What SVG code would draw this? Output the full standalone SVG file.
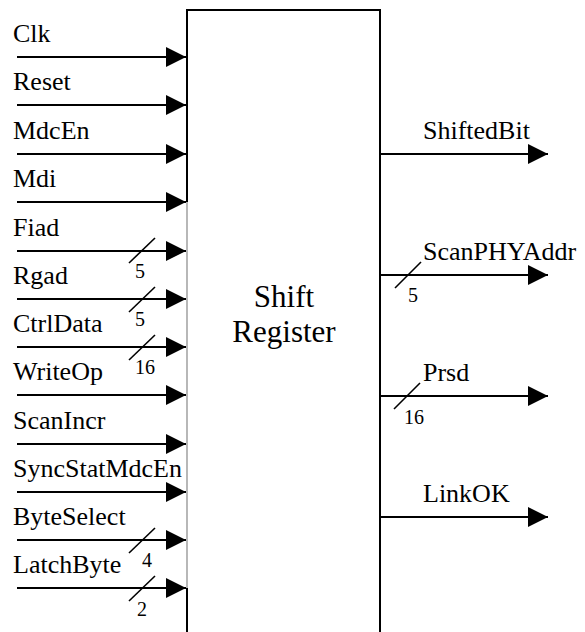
<svg xmlns="http://www.w3.org/2000/svg" width="585" height="632" viewBox="0 0 585 632">
<style>
text{font-family:'Liberation Serif','Times New Roman',Times,'DejaVu Serif',serif;fill:#000}
.lbl{font-size:26px}
.num{font-size:20px}
.ttl{font-size:31px;text-anchor:middle}
.w{stroke:#000;stroke-width:2;fill:none}
.s{stroke:#000;stroke-width:1.6;fill:none}
</style>
<defs>
<marker id="ah" markerUnits="userSpaceOnUse" markerWidth="20" markerHeight="20" refX="20" refY="10" orient="auto">
<path d="M0,0 L20,10 L0,20 Z" fill="#000"/>
</marker>
</defs>
<rect width="585" height="632" fill="#fff"/>
<g id="shift-register">
<path d="M187,202 V10 H380 V632" class="w"/>
<path d="M187,202 V588" stroke="#888" stroke-width="1.2" fill="none"/>
<path d="M187,588 V632" class="w"/>
<text class="ttl" x="284" y="307">Shift</text>
<text class="ttl" x="284" y="342">Register</text>
</g>
<g id="connectors">
<line class="w" x1="17" y1="57" x2="186" y2="57" marker-end="url(#ah)"/>
<line class="w" x1="17" y1="105" x2="186" y2="105" marker-end="url(#ah)"/>
<line class="w" x1="17" y1="154" x2="186" y2="154" marker-end="url(#ah)"/>
<line class="w" x1="17" y1="202" x2="186" y2="202" marker-end="url(#ah)"/>
<line class="w" x1="17" y1="251" x2="186" y2="251" marker-end="url(#ah)"/>
<line class="w" x1="17" y1="299" x2="186" y2="299" marker-end="url(#ah)"/>
<line class="w" x1="17" y1="347" x2="186" y2="347" marker-end="url(#ah)"/>
<line class="w" x1="17" y1="395" x2="186" y2="395" marker-end="url(#ah)"/>
<line class="w" x1="17" y1="444" x2="186" y2="444" marker-end="url(#ah)"/>
<line class="w" x1="17" y1="492" x2="186" y2="492" marker-end="url(#ah)"/>
<line class="w" x1="17" y1="540" x2="186" y2="540" marker-end="url(#ah)"/>
<line class="w" x1="17" y1="588" x2="186" y2="588" marker-end="url(#ah)"/>
<line class="w" x1="380" y1="154" x2="548" y2="154" marker-end="url(#ah)"/>
<line class="w" x1="380" y1="275" x2="548" y2="275" marker-end="url(#ah)"/>
<line class="w" x1="380" y1="396" x2="548" y2="396" marker-end="url(#ah)"/>
<line class="w" x1="380" y1="517" x2="548" y2="517" marker-end="url(#ah)"/>
<line class="s" x1="129" y1="263" x2="155" y2="238"/>
<line class="s" x1="129" y1="312" x2="155" y2="287"/>
<line class="s" x1="129" y1="360" x2="155" y2="335"/>
<line class="s" x1="129" y1="553" x2="155" y2="528"/>
<line class="s" x1="129" y1="601" x2="155" y2="576"/>
<line class="s" x1="395" y1="288" x2="421" y2="262"/>
<line class="s" x1="394" y1="409" x2="420" y2="383"/>
</g>
<g id="labels">
<text class="lbl" x="13" y="42">Clk</text>
<text class="lbl" x="13" y="90">Reset</text>
<text class="lbl" x="13" y="139">MdcEn</text>
<text class="lbl" x="13" y="187">Mdi</text>
<text class="lbl" x="13" y="236">Fiad</text>
<text class="lbl" x="13" y="284">Rgad</text>
<text class="lbl" x="13" y="332">CtrlData</text>
<text class="lbl" x="13" y="380">WriteOp</text>
<text class="lbl" x="13" y="429">ScanIncr</text>
<text class="lbl" x="13" y="477">SyncStatMdcEn</text>
<text class="lbl" x="13" y="525">ByteSelect</text>
<text class="lbl" x="13" y="573">LatchByte</text>
<text class="num" x="135" y="278">5</text>
<text class="num" x="135" y="326">5</text>
<text class="num" x="135" y="374">16</text>
<text class="num" x="142" y="567">4</text>
<text class="num" x="137" y="616">2</text>
<text class="lbl" x="423" y="139">ShiftedBit</text>
<text class="lbl" x="423" y="260">ScanPHYAddr</text>
<text class="lbl" x="423" y="381">Prsd</text>
<text class="lbl" x="423" y="502">LinkOK</text>
<text class="num" x="408" y="302">5</text>
<text class="num" x="404" y="424">16</text>
</g>
</svg>
